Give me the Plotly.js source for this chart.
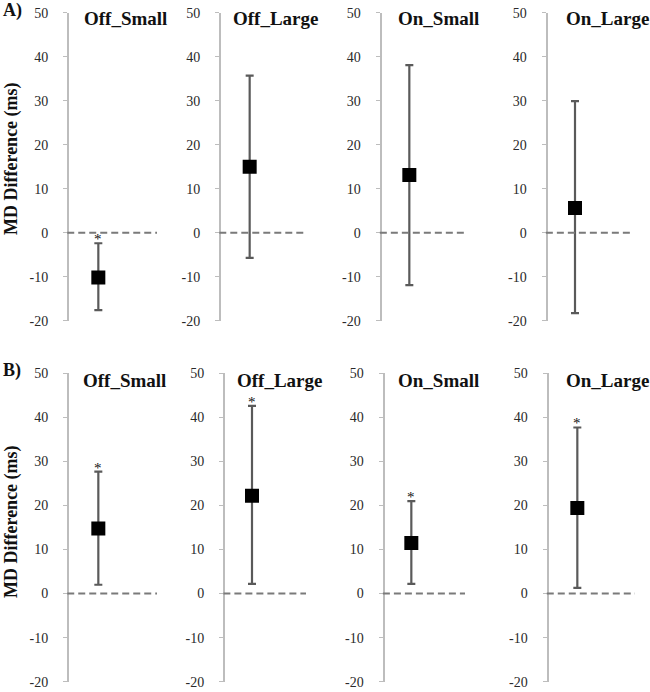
<!DOCTYPE html>
<html>
<head>
<meta charset="utf-8">
<script src="https://cdn.plot.ly/plotly-3.0.1.min.js"></script>
<style>html,body{margin:0;padding:0;background:#fff;}</style>
</head>
<body>
<div id="chart" style="width:650px;height:692px;"></div>
<script>
// ---- data ----
const panels = ["Off_Small", "Off_Large", "On_Small", "On_Large"];
const meanA  = [-10.2, 15.0, 13.1, 5.6];
const upperA = [-2.4, 35.7, 38.1, 29.9];
const lowerA = [-17.6, -5.7, -11.9, -18.3];
const sigA   = [true, false, false, false];
const meanB  = [14.8, 22.2, 11.5, 19.4];
const upperB = [27.7, 42.6, 21.0, 37.7];
const lowerB = [2.0, 2.2, 2.2, 1.3];
const sigB   = [true, true, true, true];
const yTicks = [-20, -10, 0, 10, 20, 30, 40, 50];
const yTickText = ["-20", "-10", "0", "10", "20", "30", "40", "50"];
const rowLabels = ["A)", "B)"];
const yTitle = "MD Difference (ms)";

// ---- layout geometry (pixels) ----
const W = 650, H = 692;
const px = v => v / W;
const py = v => 1 - v / H;
const rows = [
  {mean: meanA, upper: upperA, lower: lowerA, sig: sigA,
   left: [69, 221, 381.5, 547.5], right: [157, 307, 465, 630],
   top: 12.7, bottom: 320.7, titleX: [125, 275.5, 438, 607], titleY: 19,
   labelY: 11, yTitleY: 159},
  {mean: meanB, upper: upperB, lower: lowerB, sig: sigB,
   left: [69, 225, 384.5, 548.5], right: [157, 306, 465, 635],
   top: 373.3, bottom: 681.7, titleX: [124.5, 279.5, 438, 607], titleY: 380,
   labelY: 370, yTitleY: 522}
];

const SERIF = "Liberation Serif";
const traces = [];
const layout = {
  width: W, height: H,
  margin: {l: 0, r: 0, t: 0, b: 0},
  paper_bgcolor: "#fff", plot_bgcolor: "rgba(0,0,0,0)",
  showlegend: false,
  font: {family: SERIF},
  annotations: [], shapes: []
};

let k = 0;
rows.forEach((row, r) => {
  panels.forEach((name, i) => {
    k++;
    const xa = "x" + (k === 1 ? "" : k), ya = "y" + (k === 1 ? "" : k);
    const xKey = "xaxis" + (k === 1 ? "" : k), yKey = "yaxis" + (k === 1 ? "" : k);
    traces.push({
      type: "scatter", mode: "markers",
      x: [name], y: [row.mean[i]],
      xaxis: xa, yaxis: ya,
      marker: {symbol: "square", size: 14, color: "#000"},
      error_y: {type: "data", symmetric: false,
        array: [row.upper[i] - row.mean[i]],
        arrayminus: [row.mean[i] - row.lower[i]],
        color: "#5a5a5a", thickness: 2.2, width: 4},
      hoverinfo: "skip"
    });
    layout[xKey] = {
      domain: [px(row.left[i]), px(row.right[i])],
      anchor: ya, type: "category", range: [-1, 2],
      visible: false, fixedrange: true
    };
    layout[yKey] = {
      domain: [py(row.bottom), py(row.top)],
      anchor: xa, range: [-20, 50], tickvals: yTicks, ticktext: yTickText,
      ticks: "outside", ticklen: 4, tickwidth: 1.5, tickcolor: "#bdbdbd",
      showline: true, linecolor: "#bdbdbd", linewidth: 2,
      showgrid: false, zeroline: false,
      ticklabelstandoff: 12,
      tickfont: {family: SERIF, size: 14, color: "#2a2a2a"},
      fixedrange: true
    };
    layout.shapes.push({
      type: "line", xref: xa + " domain", yref: ya,
      x0: -0.02, x1: 1, y0: 0, y1: 0,
      line: {color: "#7a7a7a", width: 2, dash: "7px,4px"}
    });
    if (row.sig[i]) {
      layout.annotations.push({
        xref: xa, yref: ya, x: name, y: row.upper[i],
        text: "*", showarrow: false, yanchor: "middle", yshift: 4,
        font: {family: SERIF, size: 15, color: "#111"}
      });
    }
    layout.annotations.push({
      xref: "paper", yref: "paper", x: px(row.titleX[i]), y: py(row.titleY),
      text: "<b>" + name + "</b>", showarrow: false,
      xanchor: "center", yanchor: "middle",
      font: {family: SERIF, size: 19, color: "#111"}
    });
  });
  layout.annotations.push({
    xref: "paper", yref: "paper", x: px(12), y: py(row.labelY),
    text: "<b>" + rowLabels[r] + "</b>", showarrow: false,
    xanchor: "center", yanchor: "middle",
    font: {family: SERIF, size: 18, color: "#111"}
  });
  layout.annotations.push({
    xref: "paper", yref: "paper", x: px(11), y: py(row.yTitleY),
    text: "<b>" + yTitle + "</b>", showarrow: false, textangle: -90,
    xanchor: "center", yanchor: "middle",
    font: {family: SERIF, size: 18, color: "#111"}
  });
});

Plotly.newPlot("chart", traces, layout, {displayModeBar: false, staticPlot: true});
</script>
</body>
</html>
